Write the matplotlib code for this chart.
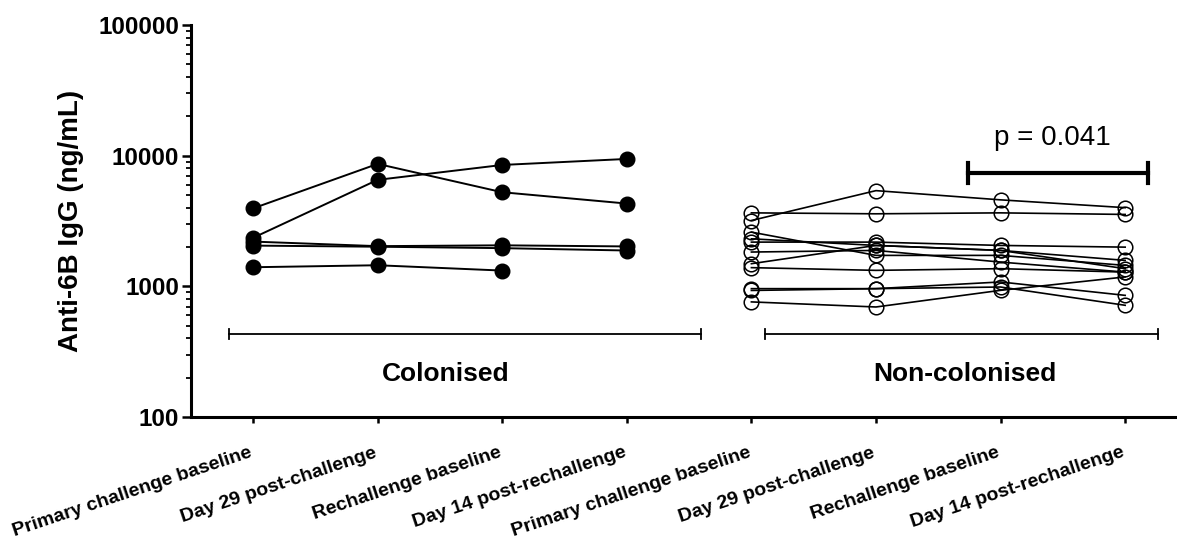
import numpy as np
import matplotlib
matplotlib.use('Agg')
import matplotlib.pyplot as plt

matplotlib.rcParams['font.family'] = ['Liberation Sans', 'DejaVu Sans']

timepoints = ['Primary challenge baseline', 'Day 29 post-challenge',
              'Rechallenge baseline', 'Day 14 post-rechallenge']

# anti-6B IgG (ng/mL), one row per volunteer
colonised = [
  [3950, 8650, 5250, 4300],
  [2350, 6530, 8490, 9440],
  [2200, 2030, 2060, 2020],
  [2050, 2010, 1960, 1880],
  [1400, 1450, 1320, np.nan],
]

non_colonised = [
  [3190, 5400, 4590, 4000],
  [3650, 3590, 3650, 3550],
  [2600, 1725, 1725, 1446],
  [2310, 2056, 1883, 1365],
  [2180, 2180, 2056, 1995],
  [1830, 1883, 1533, 1285],
  [1490, 2056, 1883, 1580],
  [1390, 1325, 1365, 1285],
  [960, 960, 1080, 853],
  [930, 960, 988, 716],
  [760, 695, 932, 1180],
]

group_names = ['Colonised', 'Non-colonised']
p_text = 'p = 0.041'

fig = plt.figure(figsize=(11.77, 5.47), dpi=100)
ax = fig.add_axes([191/1177, 130/547, 986/1177, 392/547])

x_col = np.arange(4)
x_non = np.arange(4) + 4

for row in colonised:
  ax.plot(x_col, row, '-o', color='black', lw=1.4, ms=10.5, mfc='black', mec='black', zorder=3)
for row in non_colonised:
  ax.plot(x_non, row, '-o', color='black', lw=1.2, ms=10.5, mfc='none', mec='black', mew=1.1, zorder=3)

ax.set_yscale('log')
ax.set_ylim(100, 100000)
ax.set_xlim(-0.498, 7.416)
ax.set_yticks([100, 1000, 10000, 100000])
ax.set_yticklabels(['100', '1000', '10000', '100000'])
ax.set_xticks(np.arange(8))
ax.set_xticklabels(timepoints + timepoints, rotation=18.5, ha='right', va='baseline',
                   rotation_mode='anchor', fontsize=14, fontweight='bold')
for lab in ax.get_yticklabels():
  lab.set_fontweight('bold')
  lab.set_fontsize(17.5)
ax.tick_params(axis='y', which='major', length=6.5, width=1.8, direction='out', pad=2)
ax.tick_params(axis='y', which='minor', length=3.8, width=1.3, direction='out')
ax.tick_params(axis='x', which='major', length=4.5, width=1.8, direction='out', pad=24)

for side in ['top', 'right']:
  ax.spines[side].set_visible(False)
ax.spines['left'].set_linewidth(2.2)
ax.spines['bottom'].set_linewidth(2.2)

ax.set_ylabel('Anti-6B IgG (ng/mL)', fontsize=20, fontweight='bold', labelpad=10)

# group brackets under the data
bar_y = 430
cap = 1.09
for x0, x1, xc, name in [(-0.195, 3.593, 1.547, group_names[0]), (4.107, 7.261, 5.71, group_names[1])]:
  ax.plot([x0, x1], [bar_y, bar_y], color='black', lw=1.3)
  ax.plot([x0, x0], [bar_y/cap, bar_y*cap], color='black', lw=1.3)
  ax.plot([x1, x1], [bar_y/cap, bar_y*cap], color='black', lw=1.3)
  ax.text(xc, 213, name, ha='center', va='center', fontsize=19, fontweight='bold')

# significance bar between rechallenge baseline and day 14
sig_y = 7413
sx0, sx1 = 5.736, 7.18
ax.plot([sx0, sx1], [sig_y, sig_y], color='black', lw=3)
ax.plot([sx0, sx0], [sig_y/1.19, sig_y*1.19], color='black', lw=3)
ax.plot([sx1, sx1], [sig_y/1.19, sig_y*1.19], color='black', lw=3)
ax.text(6.418, 13700, p_text, ha='center', va='center', fontsize=20)

fig.savefig('out.png', dpi=100)
